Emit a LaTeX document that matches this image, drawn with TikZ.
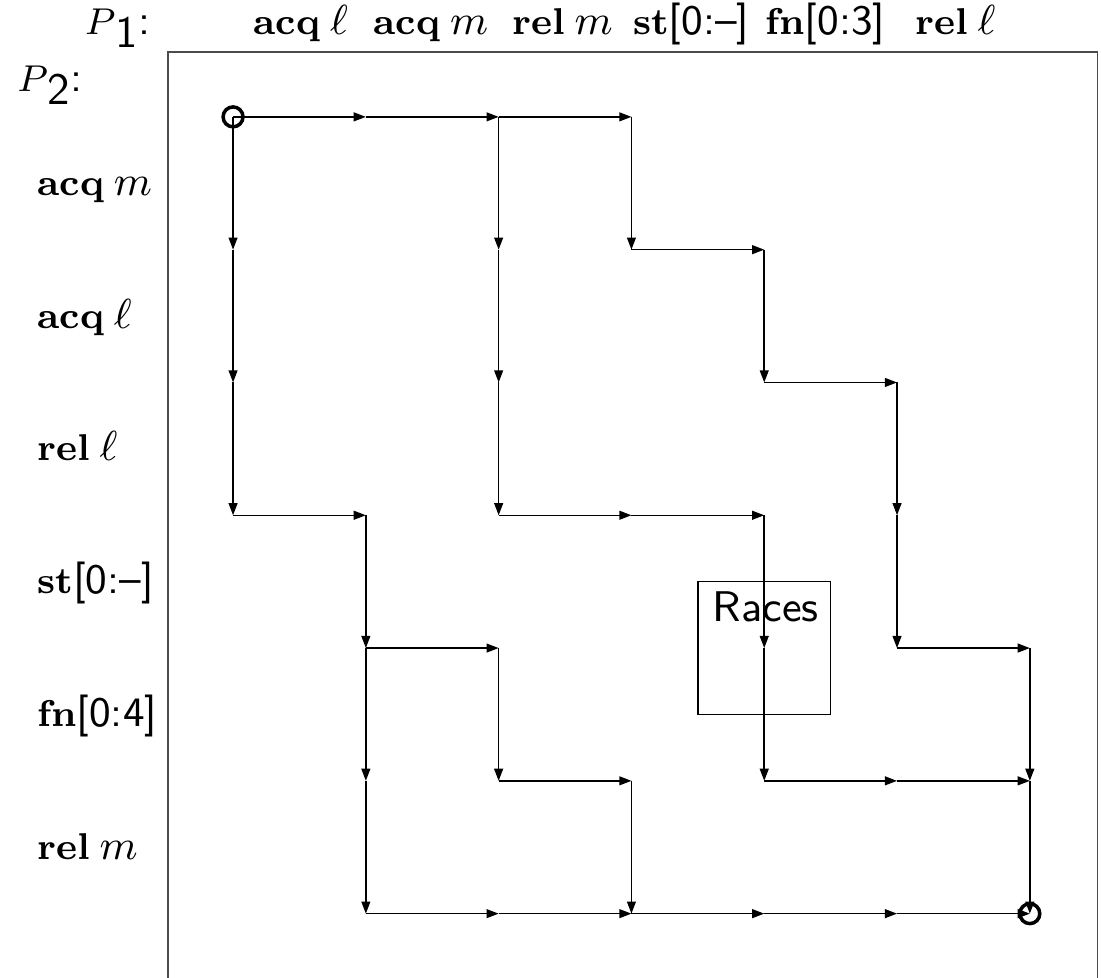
\documentclass[tikz,border=0pt]{standalone}
\usepackage{amsmath,amssymb}
\usetikzlibrary{arrows.meta}

\newcommand{\kw}[1]{{\fontsize{8}{9.6}\selectfont\textbf{#1}}\hspace{0.22em}}
\newcommand{\sfpart}[1]{{\fontsize{9}{11}\selectfont\textsf{#1}}}
\newcommand{\thr}[1]{{\fontsize{8.2}{9.6}\selectfont$P$}\raisebox{-0.3em}{\fontsize{9.6}{11}\selectfont\textsf{#1}}\sfpart{:}}

\begin{document}
\begin{tikzpicture}[font=\fontsize{9.5}{11}\selectfont,
    edge/.style={-{Triangle[length=2.6pt,width=1.9pt]}, line width=0.32pt},
    endpt/.style={circle, draw, line width=0.75pt, minimum size=0.15cm, inner sep=0pt},
    collab/.style={anchor=base, inner sep=0pt},
    rowlab/.style={anchor=base west, inner sep=0pt}]
    \useasboundingbox (-1.755,0.880) rectangle (6.536,-6.481);
    \draw[gray!60!black, line width=0.35pt] (-0.49,0.49) rectangle (6.51,-6.6);

    % grid points p<column><row>
    \foreach \i in {0,...,6} {\foreach \j in {0,...,6} {\coordinate (p\i\j) at (\i,-\j);}}

    % thread labels
    \node[collab] (t1) at (-0.87,0.62) {\thr{1}};
    \node[collab] (t2) at (-1.38,0.19) {\thr{2}};

    \node[collab] (c1) at (0.51,0.62) {\kw{acq}$\ell$};
    \node[collab] (c2) at (1.49,0.62) {\kw{acq}$m$};
    \node[collab] (c3) at (2.48,0.62) {\kw{rel}$m$};
    \node[collab] (c4) at (3.45,0.62) {{\fontsize{8}{9.6}\selectfont\textbf{st}}\sfpart{[0:--]}};
    \node[collab] (c5) at (4.46,0.62) {{\fontsize{8}{9.6}\selectfont\textbf{fn}}\sfpart{[0:3]}};
    \node[collab] (c6) at (5.44,0.62) {\kw{rel}$\ell$};

    \node[rowlab] (r1) at (-1.48,-0.59) {\kw{acq}$m$};
    \node[rowlab] (r2) at (-1.48,-1.59) {\kw{acq}$\ell$};
    \node[rowlab] (r3) at (-1.48,-2.59) {\kw{rel}$\ell$};
    \node[rowlab] (r4) at (-1.48,-3.59) {{\fontsize{8}{9.6}\selectfont\textbf{st}}\sfpart{[0:--]}};
    \node[rowlab] (r5) at (-1.48,-4.59) {{\fontsize{8}{9.6}\selectfont\textbf{fn}}\sfpart{[0:4]}};
    \node[rowlab] (r6) at (-1.48,-5.59) {\kw{rel}$m$};

    % race region
    \draw[line width=0.3pt] (3.5,-3.5) rectangle (4.5,-4.5);
    \node[collab] (races) at (4.01,-3.8) {{\fontsize{9.2}{11}\selectfont\textsf{Races}}};

    % interleavings
    \foreach \a/\b in {00/10,10/20,20/30,30/31,00/01,01/02,02/03,03/13,13/14,14/24,
        24/25,14/15,15/16,25/35,35/36,16/26,26/36,36/46,46/56,56/66,
        20/21,21/22,22/23,23/33,33/43,43/44,44/45,45/55,55/65,65/66,
        31/41,41/42,42/52,52/53,53/54,54/64,64/65}
      \draw[edge] (p\a) -- (p\b);

    \node[endpt] (start) at (p00) {};
    \node[endpt] (finish) at (p66) {};
\end{tikzpicture}
\end{document}
